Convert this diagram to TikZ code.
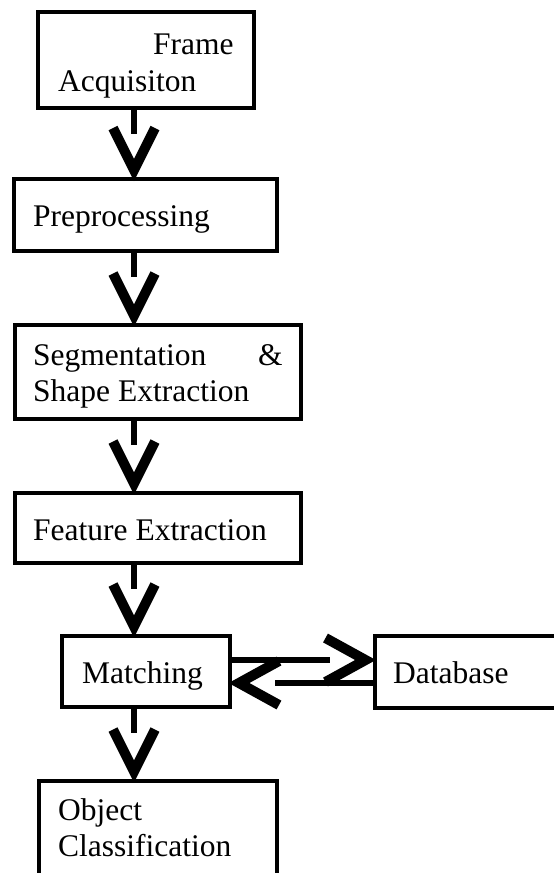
\documentclass[tikz,border=0pt]{standalone}
\usepackage{fontspec}
\setmainfont{Liberation Serif}
\usetikzlibrary{calc}
\tikzset{
  box/.style={draw, line width=4pt, rectangle, inner sep=0pt, outer sep=0pt, anchor=north west},
  lbl/.style={inner sep=0pt, anchor=base west, font=\fontsize{31.5}{36}\selectfont},
  stem/.style={line width=6pt, line cap=butt},
  head/.style={line width=10pt, line cap=butt, line join=miter},
}
\begin{document}
\begin{tikzpicture}[x=1pt, y=-1pt]
  \useasboundingbox (0,0) rectangle (554,873);
  \clip (0,0) rectangle (554,873);

  % process boxes
  \node[box, minimum width=216pt,   minimum height=95.5pt] (acq)  at (38,12)      {};
  \node[box, minimum width=263pt,   minimum height=72pt]   (pre)  at (14,179)     {};
  \node[box, minimum width=286.5pt, minimum height=94.5pt] (seg)  at (14.5,324.5) {};
  \node[box, minimum width=286.5pt, minimum height=70.5pt] (feat) at (14.5,492.5) {};
  \node[box, minimum width=168pt,   minimum height=71.5pt] (match) at (62,635.5)  {};
  \node[box, minimum width=225pt,   minimum height=72.5pt] (db)   at (374.5,635.5) {};
  \node[box, minimum width=238.5pt, minimum height=180pt]  (cls)  at (38.5,780.5) {};

  % box texts
  \node[lbl] (tFrame) at (153,54)  {Frame};
  \node[lbl] (tAcq)   at (58,91)   {Acquisiton};
  \node[lbl] (tPre)   at (33,226)  {Preprocessing};
  \node[lbl] (tSeg)   at (33,365)  {Segmentation};
  \node[lbl] (tAmp)   at (258,365) {\&};
  \node[lbl] (tShape) at (33,401)  {Shape Extraction};
  \node[lbl] (tFeat)  at (33,540)  {Feature Extraction};
  \node[lbl] (tMatch) at (82,683)  {Matching};
  \node[lbl] (tDb)    at (393,683) {Database};
  \node[lbl] (tObj)   at (58,820)  {Object};
  \node[lbl] (tCls)   at (58,856)  {Classification};

  % column of the downward arrows
  \coordinate (col) at (134,0);

  % downward arrows: short stem under a box, open V head touching the next box
  \foreach \a/\b in {acq/pre, pre/seg, seg/feat, feat/match, match/cls} {
    \draw[stem] (\a.south -| col) -- ++(0,26);
    \draw[head] ($(\b.north -| col)+(-21,-51)$) -- ++(21,42) -- ++(21,-42);
  }

  % Matching -> Database
  \draw[stem] ($(match.north east)+(0,24.5)$) -- ++(100,0);
  \draw[head] ($(db.north west)+(-49,2.5)$) -- ++(40,22) -- ++(-40,22);

  % Database -> Matching
  \draw[stem] ($(db.north west)+(0,47.5)$) -- ++(-100,0);
  \draw[head] ($(match.north east)+(49,25.5)$) -- ++(-40,22) -- ++(40,22);
\end{tikzpicture}
\end{document}
